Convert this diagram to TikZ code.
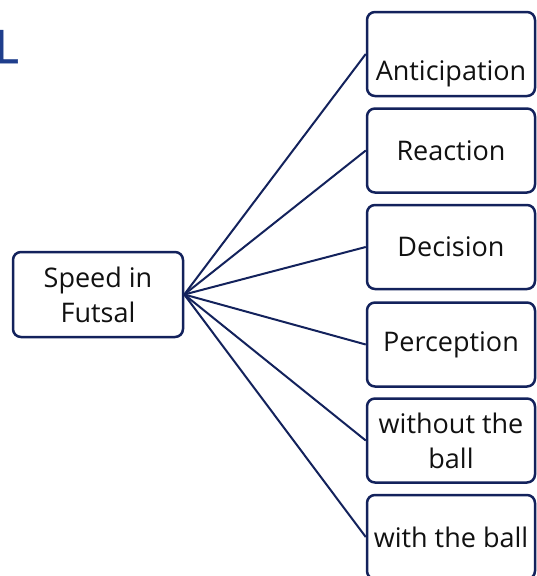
\documentclass[tikz,border=0pt]{standalone}
\usepackage{fontspec}
\setmainfont{Open Sans}
\definecolor{navy}{HTML}{13225C}
\definecolor{titleblue}{HTML}{1F3E8C}
\definecolor{ink}{HTML}{111111}
\begin{document}
\begin{tikzpicture}[x=1pt,y=-1pt,
  box/.style={draw=navy,line width=2.5pt,rounded corners=8pt,fill=white,
    minimum width=168pt,minimum height=84pt,inner sep=0pt,
    align=center,text=ink,font=\fontsize{27}{35}\selectfont},
  boxtext/.style={inner sep=0pt,align=center,text=ink,font=\fontsize{27}{35}\selectfont},
  link/.style={draw=navy,line width=2pt}]
\useasboundingbox (0,0) rectangle (537,576);

% partial title letter at the top left
\node[anchor=base west,inner sep=0pt,text=titleblue,
  font=\fontsize{46}{46}\selectfont\addfontfeature{FakeBold=1.2}] (title) at (-5.5,63) {L};

% root
\node[box,minimum width=170pt,minimum height=85pt] (root) at (98,294.5) {Speed in\\Futsal};

% leaves
\node[box] (a1) at (451,54) {};
\node[boxtext] (a1t) at (451,74) {Anticipation};
\node[box] (a2) at (451,150.5) {Reaction};
\node[box] (a3) at (451,247) {Decision};
\node[box] (a4) at (451,344.5) {Perception};
\node[box] (a5) at (451,440.5) {without the\\ball};
\node[box] (a6) at (451,537) {with the ball};

% connectors
\foreach \n in {a1,a2,a3,a4,a5,a6}
  \draw[link] (root.east) -- (\n.west);
\end{tikzpicture}
\end{document}
